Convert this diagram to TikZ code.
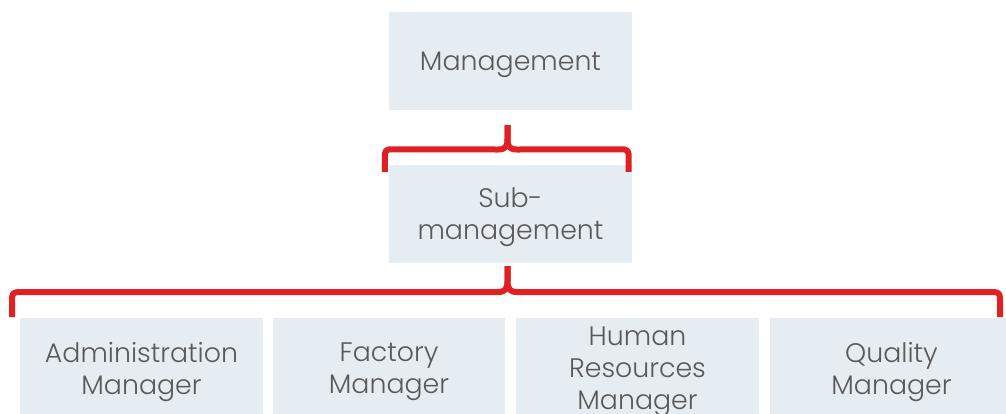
\documentclass[tikz,border=0pt]{standalone}
\usepackage{fontspec}
\usetikzlibrary{calc}
\setmainfont{Poppins}[UprightFont=* Light]
\definecolor{boxfill}{HTML}{E5EDF3}
\definecolor{txt}{HTML}{595959}
\definecolor{bred}{HTML}{E02022}
\begin{document}
\begin{tikzpicture}[x=1pt,y=-1pt,
 box/.style={draw=none,fill=boxfill,minimum width=243pt,minimum height=98pt,inner sep=0pt},
 lbl/.style={inner sep=0pt,align=center,text=txt,font=\fontsize{26.8}{32}\selectfont},
 brace/.style={draw=bred,line width=6pt,line join=round,line cap=butt}]
\useasboundingbox (0,0) rectangle (1006,413);
\clip (0,0) rectangle (1006,413);
\node[box] (mgmt) at (510.5,61) {};
\node[box] (sub) at (510.5,214) {};
\node[box,minimum height=102pt] (adm) at (141.5,369) {};
\node[box,minimum width=232pt,minimum height=102pt] (fac) at (389,369) {};
\node[box,minimum height=102pt] (hr) at (637.5,369) {};
\node[box,minimum height=102pt] (qual) at (891.5,369) {};
\node[lbl] (mgmtT) at ($(mgmt)+(0,4)$) {Management};
\node[lbl] (subT) at ($(sub)+(0,3)$) {Sub-\\management};
\node[lbl] (admT) at ($(adm)+(0,3)$) {Administration\\Manager};
\node[lbl] (facT) at ($(fac)+(0,3)$) {Factory\\Manager};
\node[lbl] (hrT) at ($(hr)+(0,3)$) {Human\\Resources\\Manager};
\node[lbl] (qualT) at ($(qual)+(0,3)$) {Quality\\Manager};
% top brace
\coordinate (ts) at ($(mgmt.south)+(-3,15)$);
\coordinate (tl) at ($(sub.north west)+(-4,7)$);
\coordinate (tr) at ($(sub.north east)+(-3.5,7)$);
\draw[brace] (tl) -- ++(0,-12) .. controls ++(0,-10.5) .. ++(10,-10.5) -- (498,149.5) .. controls (505,149.5) and (507.5,147) .. (507.5,139) -- (ts);
\draw[brace] (tr) -- ++(0,-12) .. controls ++(0,-10.5) .. ++(-10,-10.5) -- (517,149.5) .. controls (510,149.5) and (507.5,147) .. (507.5,139) -- (ts);
% bottom brace
\coordinate (bs) at ($(sub.south)+(-3,3)$);
\coordinate (bl) at (12,317);
\coordinate (br) at (1000,317);
\draw[brace] (bl) -- ++(0,-13) .. controls ++(0,-12) .. ++(12,-12) -- (498,292) .. controls (505,292) and (507.5,289) .. (507.5,281) -- (bs);
\draw[brace] (br) -- ++(0,-13) .. controls ++(0,-12) .. ++(-12,-12) -- (517,292) .. controls (510,292) and (507.5,289) .. (507.5,281) -- (bs);
\end{tikzpicture}
\end{document}
